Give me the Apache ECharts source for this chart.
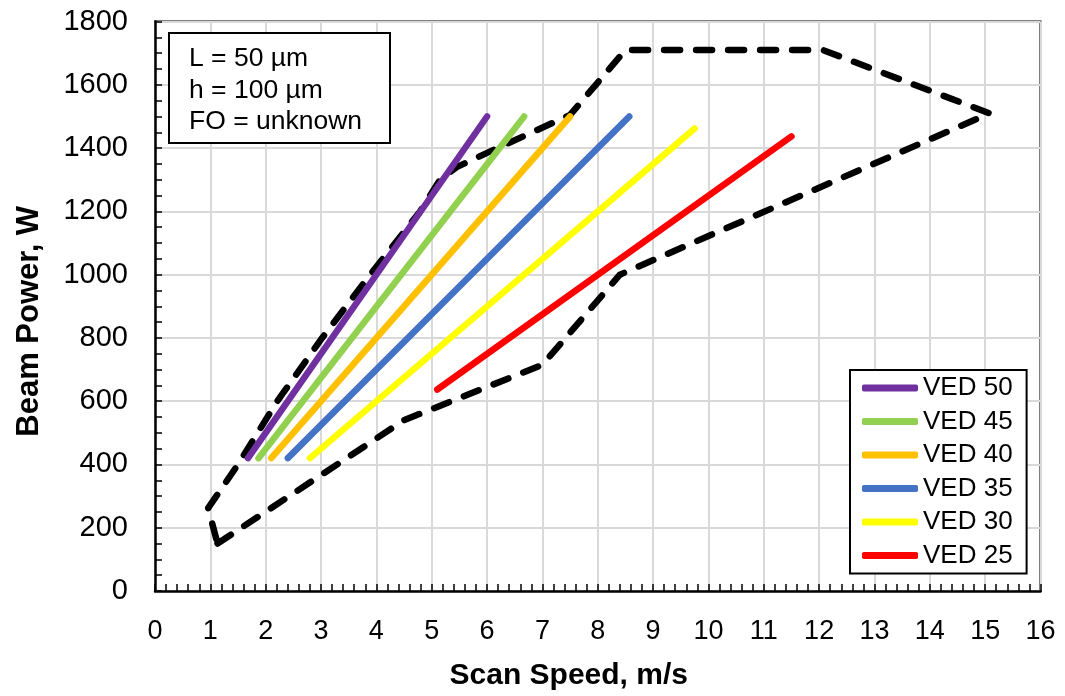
<!DOCTYPE html>
<html>
<head>
<meta charset="utf-8">
<script src="https://cdn.jsdelivr.net/npm/echarts@6/dist/echarts.min.js"></script>
<style>html,body{margin:0;padding:0;background:#fff}#c{width:1065px;height:696px}</style>
</head>
<body>
<div id="c"></div>
<script>
// ---- data ----
const vedNames = ['VED 50', 'VED 45', 'VED 40', 'VED 35', 'VED 30', 'VED 25'];
const vedColors = ['#7030A0', '#92D050', '#FFC000', '#4472C4', '#FFFF00', '#FF0000'];
const vedStartSpeed = [1.68, 1.87, 2.1, 2.4, 2.8, 5.1];
const vedStartPower = [420, 420, 420, 420, 420, 637];
const vedEndSpeed = [6.0, 6.67, 7.5, 8.57, 9.75, 11.5];
const vedEndPower = [1500, 1500, 1500, 1500, 1462, 1437];

// process window outline (dashed)
const windowSpeed = [1.13, 4.5, 7.0, 8.4, 15.08, 12.07, 8.5, 7.5, 6.0, 5.45, 5.15, 4.79, 3.89, 3.02, 2.21, 1.5, 0.96, 1.13];
const windowPower = [150, 540, 715, 1000, 1510, 1710, 1710, 1505, 1385, 1340, 1300, 1200, 1000, 800, 600, 400, 262, 150];

const noteLines = ['L = 50 µm', 'h = 100 µm', 'FO = unknown'];
const xTitle = 'Scan Speed, m/s';
const yTitle = 'Beam Power, W';

// ---- chart ----
const FONT = "'Liberation Sans', Arial, sans-serif";

const series = [];
series.push({
  name: 'window', type: 'line', symbol: 'none', silent: true, z: 3,
  data: windowSpeed.map((v, i) => [v, windowPower[i]]),
  lineStyle: { color: '#000', width: 6.5, type: [16, 16], cap: 'round', join: 'round' }
});
vedNames.forEach((n, i) => {
  series.push({
    name: n, type: 'line', symbol: 'none', z: 4,
    data: [[vedStartSpeed[i], vedStartPower[i]], [vedEndSpeed[i], vedEndPower[i]]],
    itemStyle: { color: vedColors[i] },
    lineStyle: { color: vedColors[i], width: 6.5, cap: 'round' }
  });
});

const chart = echarts.init(document.getElementById('c'), null, { renderer: 'canvas' });
chart.setOption({
  animation: false,
  backgroundColor: '#fff',
  grid: { left: 155, right: 24.5, top: 21.6, bottom: 104.4, show: true, borderColor: '#000', borderWidth: 2, backgroundColor: 'transparent' },
  xAxis: {
    type: 'value', min: 0, max: 16, interval: 1,
    name: xTitle, nameLocation: 'middle', nameGap: 70,
    nameTextStyle: { fontFamily: FONT, fontWeight: 'bold', fontSize: 30, color: '#000', padding: [0, 58, 0, 0] },
    axisLine: { show: true, lineStyle: { color: '#000', width: 2.5 } },
    axisTick: { show: true, inside: true, length: 7, lineStyle: { color: '#000', width: 1.5 } },
    minorTick: { show: true, splitNumber: 5, length: 7, lineStyle: { color: '#000', width: 1.5 } },
    axisLabel: { fontFamily: FONT, fontSize: 27, color: '#000', margin: 27 },
    splitLine: { show: true, lineStyle: { color: '#D9D9D9', width: 2 } }
  },
  yAxis: {
    type: 'value', min: 0, max: 1800, interval: 200,
    name: yTitle, nameLocation: 'middle', nameGap: 110, nameRotate: 90,
    nameTextStyle: { fontFamily: FONT, fontWeight: 'bold', fontSize: 31, color: '#000', padding: [0, 30, 0, 0] },
    axisLine: { show: true, lineStyle: { color: '#000', width: 2.5 } },
    axisTick: { show: true, inside: true, length: 7, lineStyle: { color: '#000', width: 1.5 } },
    minorTick: { show: true, splitNumber: 4, length: 7, lineStyle: { color: '#000', width: 1.5 } },
    axisLabel: { fontFamily: FONT, fontSize: 29, color: '#000', margin: 27, formatter: (v) => String(v) },
    splitLine: { show: true, lineStyle: { color: '#D9D9D9', width: 2 } }
  },
  legend: {
    data: vedNames, orient: 'vertical', left: 850, top: 370,
    icon: 'roundRect', itemWidth: 56, itemHeight: 7, itemGap: 5.5,
    padding: [4, 14, 4, 12],
    borderColor: '#000', borderWidth: 2, backgroundColor: '#fff',
    textStyle: { fontFamily: FONT, fontSize: 26, color: '#000', lineHeight: 28 }
  },
  graphic: [
    { type: 'rect', z: 100, shape: { x: 169, y: 33, width: 221, height: 110 }, style: { fill: '#fff', stroke: '#000', lineWidth: 2 } },
    { type: 'text', z: 101, x: 189, y: 43, style: { text: noteLines.join('\n'), font: "26.5px 'Liberation Sans', Arial, sans-serif", fill: '#000', lineHeight: 31.5, verticalAlign: 'top' } }
  ],
  series: series
});
</script>
</body>
</html>
